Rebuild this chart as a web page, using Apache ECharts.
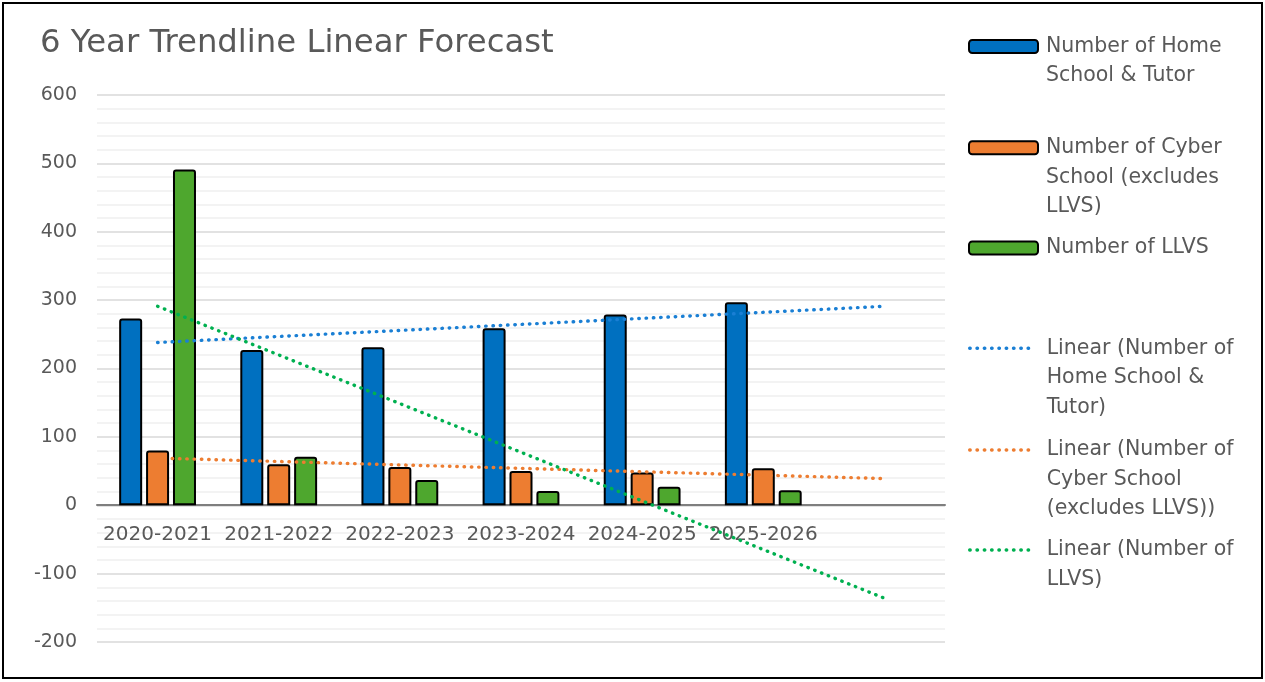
<!DOCTYPE html>
<html>
<head>
<meta charset="utf-8">
<script src="https://cdn.jsdelivr.net/npm/echarts@6/dist/echarts.min.js"></script>
<style>
html,body{margin:0;padding:0;background:#fff;}
#chart{width:1265px;height:682px;}
</style>
</head>
<body>
<div id="chart"></div>
<script>
// ---- data ----
const categories = ['2020-2021', '2021-2022', '2022-2023', '2023-2024', '2024-2025', '2025-2026', ''];
const homeSchool = [273, 227, 231, 259, 279, 297];
const cyberSchool = [80, 60, 56, 50, 48, 54];
const llvs = [491, 71, 37, 21, 27, 22];
// trendline endpoints: [first category, forecast category]
const trendHome = [238, 291];
const trendCyber = [69, 39];
const trendLlvs = [291, -136];
const yTicks = [-200, -100, 0, 100, 200, 300, 400, 500, 600];

const seriesNames = [
  'Number of Home School & Tutor',
  'Number of Cyber School (excludes LLVS)',
  'Number of LLVS',
  'Linear (Number of Home School & Tutor)',
  'Linear (Number of Cyber School (excludes LLVS))',
  'Linear (Number of LLVS)'
];
const legendLabels = [
  ['Number of Home', 'School & Tutor'],
  ['Number of Cyber', 'School (excludes', 'LLVS)'],
  ['Number of LLVS'],
  ['Linear (Number of', 'Home School &', 'Tutor)'],
  ['Linear (Number of', 'Cyber School', '(excludes LLVS))'],
  ['Linear (Number of', 'LLVS)']
];

const FONT = 'DejaVu Sans';
const TXT = '#595959';
const LH = 29.5;
const legendCenters = [46.5, 147.7, 248, 348.3, 450, 550];
const DOTS = [0.5, 6.8];

const legends = seriesNames.map((name, i) => {
  const lines = legendLabels[i];
  const n = lines.length;
  const padded = new Array(n - 1).fill('').concat(lines).join('\n');
  const isBar = i < 3;
  const h = Math.max(13, (2 * n - 1) * LH);
  const lg = {
    data: [name],
    orient: 'vertical',
    left: isBar ? 968 : 968,
    top: legendCenters[i] - h / 2,
    padding: 0,
    itemWidth: isBar ? 69 : 64,
    itemHeight: 13,
    selectedMode: false,
    formatter: () => padded,
    textStyle: {
      fontFamily: FONT, fontSize: 20.5, color: TXT, lineHeight: LH,
      padding: [0, 0, 0, isBar ? 3 : 8]
    }
  };
  if (!isBar) {
    lg.itemStyle = { opacity: 0, borderWidth: 0 };
    lg.lineStyle = { width: 3.4, type: DOTS, cap: 'round' };
  }
  return lg;
});

const barColors = ['#0070C0', '#ED7D31', '#4EA72E'];
const trendColors = ['#1A7FD4', '#ED7D31', '#00B050'];
const barData = [homeSchool, cyberSchool, llvs];
const trendData = [trendHome, trendCyber, trendLlvs];

const series = [];
barData.forEach((d, i) => {
  series.push({
    name: seriesNames[i],
    type: 'bar',
    data: d,
    barWidth: 23,
    barGap: '17%',
    itemStyle: { color: barColors[i], borderColor: '#000', borderWidth: 2, borderRadius: [2, 2, 0, 0] },
    z: 2
  });
});
trendData.forEach((d, i) => {
  series.push({
    name: seriesNames[i + 3],
    type: 'line',
    data: [[0, d[0]], [categories.length - 1, d[1]]],
    symbol: 'none',
    showSymbol: false,
    lineStyle: { color: trendColors[i], width: 3.4, type: DOTS, cap: 'round' },
    itemStyle: { color: trendColors[i] },
    z: 3
  });
});

const chart = echarts.init(document.getElementById('chart'));
chart.setOption({
  animation: false,
  backgroundColor: '#fff',
  title: {
    text: '6 Year Trendline Linear Forecast',
    left: 40, top: 28, padding: 0,
    textStyle: { fontFamily: FONT, fontSize: 32.3, fontWeight: 'normal', color: TXT }
  },
  legend: legends,
  grid: { left: 97, right: 320, top: 95, bottom: 40, containLabel: false },
  xAxis: {
    type: 'category',
    data: categories,
    position: 'bottom',
    offset: -137,
    axisLine: { onZero: false, lineStyle: { color: '#7f7f7f', width: 2 } },
    axisTick: { show: false },
    axisLabel: { interval: 0, margin: 20, fontFamily: FONT, fontSize: 20, color: TXT },
    splitLine: { show: false }
  },
  yAxis: {
    type: 'value',
    min: yTicks[0], max: yTicks[yTicks.length - 1], interval: 100,
    axisLine: { show: false },
    axisTick: { show: false },
    axisLabel: { margin: 20, fontFamily: FONT, fontSize: 19, color: TXT },
    splitLine: { show: true, lineStyle: { color: '#d9d9d9', width: 1.5 } },
    minorTick: { show: false, splitNumber: 5 },
    minorSplitLine: { show: true, lineStyle: { color: '#f0f0f0', width: 1.5 } }
  },
  graphic: [{
    type: 'rect', silent: true, z: 100,
    shape: { x: 3, y: 3, width: 1259, height: 675 },
    style: { fill: 'none', stroke: '#000', lineWidth: 2 }
  }],
  series: series
});
</script>
</body>
</html>
